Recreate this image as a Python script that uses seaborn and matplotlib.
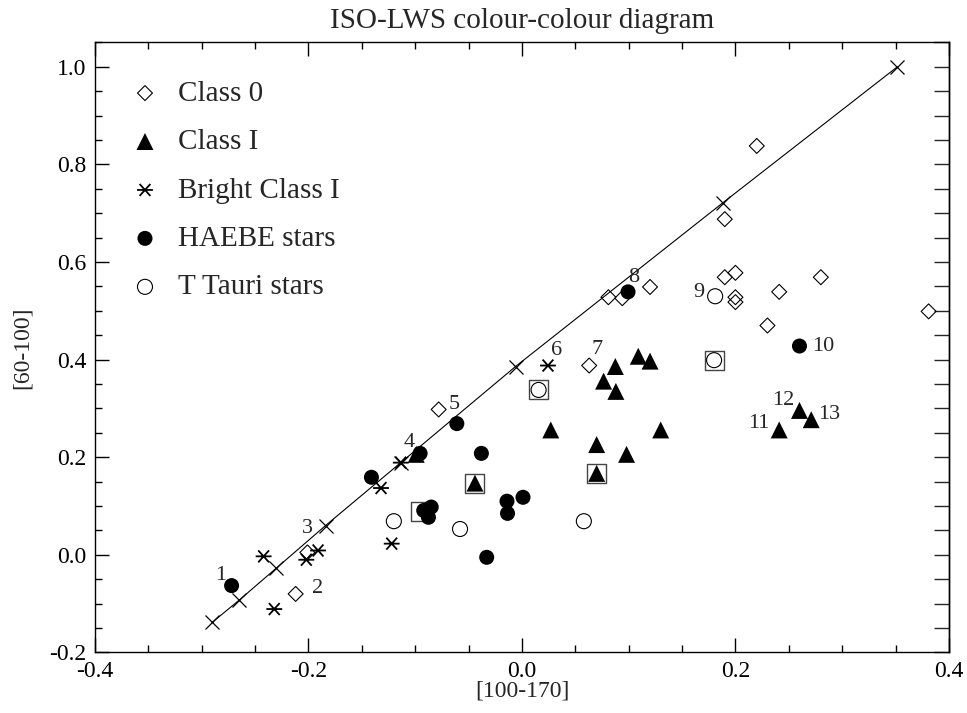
import numpy as np
import matplotlib
matplotlib.use("Agg")
import matplotlib.pyplot as plt
from matplotlib.path import Path
from matplotlib.ticker import MultipleLocator, FormatStrFormatter
import seaborn as sns

# ---------------- data ----------------
class0_x = [0.220, 0.190, 0.081, 0.094, 0.120, 0.190, 0.200, 0.200, 0.200, 0.241, 0.280, 0.381, 0.230, 0.063, -0.078, -0.212, -0.201]
class0_y = [0.838, 0.688, 0.528, 0.526, 0.549, 0.569, 0.578, 0.528, 0.518, 0.539, 0.569, 0.499, 0.470, 0.388, 0.298, -0.080, 0.005]

classI_x = [0.0875, 0.109, 0.120, 0.0765, 0.088, 0.027, 0.130, 0.070, 0.098, 0.070, 0.241, 0.260, 0.271, -0.044, -0.099]
classI_y = [0.386, 0.407, 0.397, 0.356, 0.335, 0.256, 0.256, 0.226, 0.206, 0.167, 0.256, 0.296, 0.277, 0.147, 0.206]

bright_x = [-0.242, -0.232, -0.202, -0.191, -0.132, -0.122, -0.1135, 0.0244]
bright_y = [-0.003, -0.111, -0.010, 0.009, 0.137, 0.023, 0.189, 0.388]

haebe_x = [-0.272, -0.141, -0.0954, -0.061, -0.038, -0.092, -0.085, -0.0876, -0.033, -0.014, -0.0135, 0.001, 0.260, 0.0994]
haebe_y = [-0.063, 0.159, 0.208, 0.269, 0.208, 0.091, 0.098, 0.077, -0.005, 0.110, 0.085, 0.118, 0.428, 0.539]

ttauri_x = [-0.120, -0.058, 0.0156, 0.058, 0.180, 0.181]
ttauri_y = [0.069, 0.053, 0.338, 0.069, 0.399, 0.530]

boxed_x = [-0.095, -0.044, 0.0156, 0.070, 0.180]
boxed_y = [0.089, 0.147, 0.338, 0.167, 0.399]

bb_x = [-0.29, -0.265, -0.23, -0.184, -0.1135, -0.006, 0.1885, 0.3516]
bb_y = [-0.138, -0.093, -0.027, 0.060, 0.189, 0.386, 0.722, 1.0]

label_txt = ["1", "2", "3", "4", "5", "6", "7", "8", "9", "10", "11", "12", "13"]
label_x = [-0.282, -0.191, -0.201, -0.106, -0.063, 0.0328, 0.0703, 0.105, 0.1656, 0.2822, 0.2219, 0.2447, 0.2876]
label_y = [-0.036, -0.063, 0.060, 0.237, 0.313, 0.424, 0.427, 0.574, 0.544, 0.433, 0.274, 0.323, 0.293]

legend_labels = ["Class 0", "Class I", "Bright Class I", "HAEBE stars", "T Tauri stars"]

# ---------------- style ----------------
sns.set_style("ticks")
plt.rcParams["font.family"] = ["Liberation Serif", "DejaVu Serif"]
plt.rcParams["axes.unicode_minus"] = False

fig = plt.figure(figsize=(9.67, 7.13), dpi=100)
ax = fig.add_axes([0.0982, 0.0849, 0.8831, 0.8555])

asterisk = Path([(-1, 0), (1, 0), (-0.68, -0.75), (0.68, 0.75), (-0.68, 0.75), (0.68, -0.75)],
                [Path.MOVETO, Path.LINETO, Path.MOVETO, Path.LINETO, Path.MOVETO, Path.LINETO])

lw = 0.8
# reference line with x markers
sns.lineplot(x=bb_x, y=bb_y, sort=False, color="black", lw=0.8, marker="x",
             markersize=9.4, markeredgewidth=0.9, markeredgecolor="black", ax=ax)

sns.scatterplot(x=boxed_x, y=boxed_y, marker="s", s=187, facecolor="none",
                edgecolor="#444444", linewidth=1.0, ax=ax, zorder=3)
sns.scatterplot(x=class0_x, y=class0_y, marker="D", s=58, facecolor="none",
                edgecolor="black", linewidth=lw, ax=ax, label=legend_labels[0], zorder=4)
sns.scatterplot(x=classI_x, y=classI_y, marker="^", s=149, color="black",
                edgecolor="none", ax=ax, label=legend_labels[1], zorder=4)
sns.scatterplot(x=bright_x, y=bright_y, marker=asterisk, s=130, facecolor="none",
                edgecolor="black", linewidth=1.3, ax=ax, label=legend_labels[2], zorder=4)
sns.scatterplot(x=haebe_x, y=haebe_y, marker="o", s=117, color="black",
                edgecolor="none", ax=ax, label=legend_labels[3], zorder=4)
sns.scatterplot(x=ttauri_x, y=ttauri_y, marker="o", s=117, facecolor="none",
                edgecolor="black", linewidth=lw, ax=ax, label=legend_labels[4], zorder=4)

for t, x, y in zip(label_txt, label_x, label_y):
    ax.text(x, y - 0.015, t, fontsize=16, ha="center", va="baseline", zorder=5)

ax.set_xlim(-0.4, 0.4)
ax.set_ylim(-0.2, 1.05)
ax.xaxis.set_major_locator(MultipleLocator(0.2))
ax.xaxis.set_minor_locator(MultipleLocator(0.05))
ax.yaxis.set_major_locator(MultipleLocator(0.2))
ax.yaxis.set_minor_locator(MultipleLocator(0.05))
ax.xaxis.set_major_formatter(FormatStrFormatter("%.1f"))
ax.yaxis.set_major_formatter(FormatStrFormatter("%.1f"))

ax.tick_params(which="both", direction="in", top=True, right=False, colors="black",
               labelsize=17, width=1.0)
ax.tick_params(which="major", length=10)
ax.tick_params(which="minor", length=5)
ax.tick_params(axis="x", which="major", pad=6)
ax.tick_params(axis="y", which="major", pad=6)

sec = ax.secondary_yaxis("right")
sec.yaxis.set_major_locator(MultipleLocator(0.05))
sec.tick_params(direction="in", length=11, width=1.0, labelright=False)

for sp in list(ax.spines.values()) + list(sec.spines.values()):
    sp.set_linewidth(1.0)
    sp.set_color("black")

ax.set_xlabel("[100-170]", fontsize=17, labelpad=-1)
ax.set_ylabel("[60-100]", fontsize=17, labelpad=12)
ax.set_title("ISO-LWS colour-colour diagram", fontsize=21, pad=10.5)

leg = ax.legend(loc="upper left", bbox_to_anchor=(0.0415, 0.938), borderaxespad=0,
                borderpad=0, frameon=False, fontsize=21, handlelength=1.0,
                handletextpad=0.63, labelspacing=0.755, markerscale=1.0)

fig.savefig("out.png", dpi=100)
